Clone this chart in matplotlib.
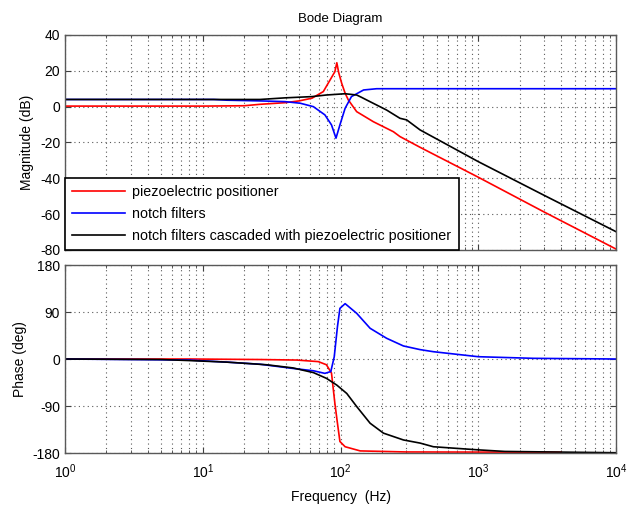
import matplotlib
matplotlib.use("Agg")
from matplotlib import pyplot as plt
from matplotlib.ticker import LogLocator, NullFormatter

plt.rcParams['font.family'] = ['Liberation Sans', 'DejaVu Sans']
plt.rcParams['axes.unicode_minus'] = False

# magnitude (dB)
f_red_mag = [1, 10, 20, 26, 39.5, 50, 62, 75, 84, 91, 94, 97, 102, 108, 114, 131, 173, 242, 270, 378, 1000, 2970, 10000]
mag_red = [0.3, 0.3, 0.5, 1.3, 2.2, 3.2, 4.7, 8.4, 14.9, 19.5, 24.5, 19.0, 13.0, 7.5, 3.7, -2.8, -8.4, -14.0, -16.7, -22.7, -39.4, -58.6, -79.5]

f_blue_mag = [1, 12, 15, 26, 39.5, 51, 63.5, 77, 86, 92.7, 99, 108, 120, 147, 183, 10000]
mag_blue = [4.0, 4.0, 3.6, 3.2, 2.8, 1.9, 0.0, -4.6, -10.2, -17.6, -10.2, -0.9, 5.6, 9.3, 10.0, 10.0]

f_black_mag = [1, 26, 39.5, 62, 79, 108, 131, 142, 155, 216, 270, 302, 378, 1000, 2970, 10000]
mag_black = [4.0, 4.0, 4.9, 5.6, 6.5, 7.2, 6.5, 5.2, 3.7, -1.9, -6.5, -7.4, -13.0, -30.7, -49.3, -69.8]

# phase (deg)
f_red_ph = [1, 8, 26, 48, 69, 79, 86, 91, 95, 99, 108, 139, 300, 4000]
ph_red = [0, 0, -1, -2, -5, -11, -27, -85, -123, -158, -168, -176, -178, -178.5]

f_blue_ph = [1, 8, 15, 26, 45, 63.5, 77, 85, 90, 95, 99, 108, 131, 164, 216, 286, 378, 472, 1000, 2510, 10000]
ph_blue = [0, -2, -6, -10, -18, -22.5, -27.5, -24, 4, 62, 97, 106, 87.5, 58.8, 39.7, 25, 18, 14, 4.4, 1.3, 0]

f_black_ph = [1, 5, 8, 15, 29, 45, 63.5, 79, 94, 111, 131, 164, 205, 286, 378, 472, 1000, 1560, 10000]
ph_black = [0, -1, -3, -6, -11, -17, -26, -37, -50, -66, -91, -123, -142, -155, -161, -168, -174, -177, -179.5]

labels = ['piezoelectric positioner', 'notch filters',
          'notch filters cascaded with piezoelectric positioner']

fig = plt.figure(figsize=(6.27, 5.07), dpi=100)
ax1 = fig.add_axes([0.1037, 0.507, 0.8788, 0.424])
ax2 = fig.add_axes([0.1037, 0.1065, 0.8788, 0.3708])

lw = 1.2
ax1.semilogx(f_red_mag, mag_red, color='#ff0000', lw=lw, label=labels[0])
ax1.semilogx(f_blue_mag, mag_blue, color='#0000ff', lw=lw, label=labels[1])
ax1.semilogx(f_black_mag, mag_black, color='black', lw=lw, label=labels[2])

ax2.semilogx(f_red_ph, ph_red, color='#ff0000', lw=lw)
ax2.semilogx(f_blue_ph, ph_blue, color='#0000ff', lw=lw)
ax2.semilogx(f_black_ph, ph_black, color='black', lw=lw)

ax1.set_ylim(-80, 40)
ax1.set_yticks([-80, -60, -40, -20, 0, 20, 40])
ax2.set_ylim(-180, 180)
ax2.set_yticks([-180, -90, 0, 90, 180])

for ax in (ax1, ax2):
    ax.set_xlim(1, 1e4)
    ax.xaxis.set_major_locator(LogLocator(base=10, numticks=10))
    ax.xaxis.set_minor_locator(LogLocator(base=10, subs=range(2, 10), numticks=50))
    ax.xaxis.set_minor_formatter(NullFormatter())
    ax.grid(True, which='major', linestyle=(0, (1, 3)), color='0.35', lw=0.8)
    ax.grid(True, which='minor', axis='x', linestyle=(0, (1, 3)), color='0.35', lw=0.8)
    ax.tick_params(which='both', direction='in', top=True, right=True, labelsize=10, colors='0.25', labelcolor='black')
    ax.tick_params(which='major', length=4)
    ax.tick_params(which='minor', length=2)
    for s in ax.spines.values():
        s.set_color('0.35')
        s.set_linewidth(1.0)

ax1.tick_params(labelbottom=False)
ax2.tick_params(axis='x', pad=7)
ax1.set_title('Bode Diagram', fontsize=9.5, pad=9)
ax1.set_ylabel('Magnitude (dB)', fontsize=10)
ax2.set_ylabel('Phase (deg)', fontsize=10)
ax2.set_xlabel('Frequency  (Hz)', fontsize=10, labelpad=6)

leg = ax1.legend(loc='lower left', borderaxespad=0, fontsize=10.3, fancybox=False,
                 framealpha=1, edgecolor='black', handlelength=3.7,
                 handletextpad=0.5, labelspacing=0.55, borderpad=0.5)
leg.get_frame().set_linewidth(1.2)

fig.savefig('out.png', dpi=100)
